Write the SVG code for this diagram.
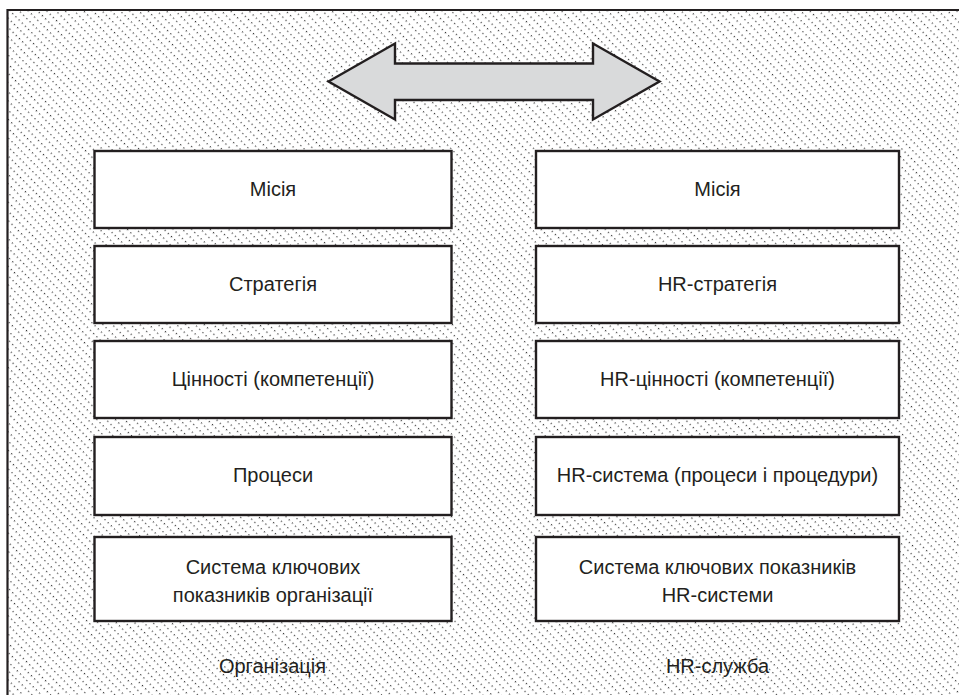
<svg xmlns="http://www.w3.org/2000/svg" width="959" height="695" viewBox="0 0 959 695">
<defs>
<pattern id="hatch" patternUnits="userSpaceOnUse" width="4.5" height="6.5" patternTransform="rotate(45)">
<rect x="0" y="0" width="1.2" height="1.2" fill="#333333"/>
</pattern>
<style>
.box{fill:#ffffff;stroke:#231f20;stroke-width:2.4}
.t{font-family:"Liberation Sans","Noto Sans",Arial,sans-serif;font-size:20px;fill:#231f20;text-anchor:middle}
</style>
</defs>
<rect x="0" y="0" width="959" height="695" fill="#ffffff"/>
<g id="frame">
<rect x="8" y="10" width="951" height="685" fill="url(#hatch)"/>
<path d="M7.5 695 V10 H959" fill="none" stroke="#231f20" stroke-width="2.2"/>
</g>
<g id="connectors">
<path d="M328.5 81.5 L395 43.5 V63.5 H593 V43.5 L659.5 81.5 L593 119.5 V100 H395 V119.5 Z" fill="#d9dadb" stroke="#231f20" stroke-width="2.4" stroke-linejoin="miter"/>
</g>
<g id="l1"><rect class="box" x="94.5" y="151" width="357" height="77"/><text class="t" x="273" y="196">Місія</text></g>
<g id="l2"><rect class="box" x="94.5" y="246" width="357" height="77"/><text class="t" x="273" y="291">Стратегія</text></g>
<g id="l3"><rect class="box" x="94.5" y="341" width="357" height="77"/><text class="t" x="273" y="386">Цінності (компетенції)</text></g>
<g id="l4"><rect class="box" x="94.5" y="437" width="357" height="78"/><text class="t" x="273" y="482">Процеси</text></g>
<g id="l5"><rect class="box" x="94.5" y="537" width="357" height="84"/><text class="t" x="273" y="574">Система ключових</text><text class="t" x="273" y="602">показників організації</text></g>
<g id="r1"><rect class="box" x="536" y="151" width="363" height="77"/><text class="t" x="717.5" y="196">Місія</text></g>
<g id="r2"><rect class="box" x="536" y="246" width="363" height="77"/><text class="t" x="717.5" y="291">HR-стратегія</text></g>
<g id="r3"><rect class="box" x="536" y="341" width="363" height="77"/><text class="t" x="717.5" y="386">HR-цінності (компетенції)</text></g>
<g id="r4"><rect class="box" x="536" y="437" width="363" height="78"/><text class="t" x="717.5" y="482">HR-система (процеси і процедури)</text></g>
<g id="r5"><rect class="box" x="536" y="537" width="363" height="84"/><text class="t" x="717.5" y="574">Система ключових показників</text><text class="t" x="717.5" y="602">HR-системи</text></g>
<g id="labels">
<text class="t" x="272.5" y="673">Організація</text>
<text class="t" x="717.5" y="673">HR-служба</text>
</g>
</svg>
